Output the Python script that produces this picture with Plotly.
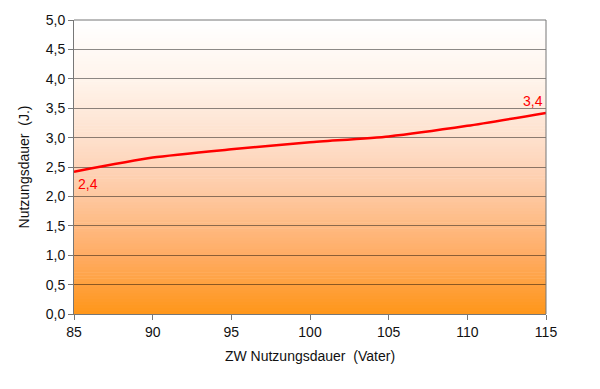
import plotly.graph_objects as go

x_vals = [85, 90, 95, 100, 105, 110, 115]
y_vals = [2.42, 2.66, 2.80, 2.92, 3.02, 3.20, 3.42]
x_ticks = [85, 90, 95, 100, 105, 110, 115]
y_ticks = [0, 0.5, 1, 1.5, 2, 2.5, 3, 3.5, 4, 4.5, 5]
y_tick_labels = ["0,0", "0,5", "1,0", "1,5", "2,0", "2,5", "3,0", "3,5", "4,0", "4,5", "5,0"]
start_label = "2,4"
end_label = "3,4"

# gradient stops (fraction of plot height from bottom, rgb)
grad_stops = [
    (0.0, (255, 150, 25)),
    (0.2, (255, 172, 100)),
    (0.4, (254, 200, 160)),
    (0.5, (254, 212, 185)),
    (0.6, (254, 225, 205)),
    (0.8, (255, 244, 236)),
    (1.0, (255, 255, 255)),
]


def grad_color(t):
    for (a, ca), (b, cb) in zip(grad_stops[:-1], grad_stops[1:]):
        if a <= t <= b:
            u = (t - a) / (b - a)
            return tuple(int(round(ca[k] + (cb[k] - ca[k]) * u)) for k in range(3))
    return grad_stops[-1][1]


fig = go.Figure()

n = 100
shapes = []
for i in range(n):
    f0 = i / n
    f1 = (i + 1) / n
    c = grad_color((f0 + f1) / 2)
    shapes.append(dict(type="rect", xref="paper", yref="paper", x0=0, x1=1,
                       y0=f0, y1=min(f1 + 0.002, 1), fillcolor="rgb(%d,%d,%d)" % c,
                       line=dict(width=0), layer="below"))
shapes.append(dict(type="line", xref="paper", yref="paper", x0=1, x1=1, y0=0, y1=1,
                   line=dict(color="#777777", width=1), layer="above"))
shapes.append(dict(type="line", xref="paper", yref="paper", x0=0, x1=1, y0=1, y1=1,
                   line=dict(color="#777777", width=1), layer="below"))

fig.add_trace(go.Scatter(x=x_vals, y=y_vals, mode="lines",
                         line=dict(color="#FF0000", width=2.5, shape="spline", smoothing=0.6),
                         hoverinfo="skip", showlegend=False))

fig.add_annotation(x=x_vals[0], y=y_vals[0], text=start_label, showarrow=False,
                   xanchor="left", yanchor="top", xshift=2, yshift=-2,
                   font=dict(color="#FF0000", size=14, family="Liberation Sans"))
fig.add_annotation(x=x_vals[-1], y=y_vals[-1], text=end_label, showarrow=False,
                   xanchor="right", yanchor="bottom", xshift=-1, yshift=2,
                   font=dict(color="#FF0000", size=14, family="Liberation Sans"))

fig.update_layout(
    width=600, height=389,
    margin=dict(l=74, r=54, t=20, b=75),
    paper_bgcolor="white",
    plot_bgcolor="rgba(0,0,0,0)",
    shapes=shapes,
    font=dict(family="Liberation Sans", size=14, color="#111111"),
    xaxis=dict(range=[85, 115], tickvals=x_ticks, ticks="outside", ticklen=5,
               tickcolor="#777777", showgrid=False, showline=True, linecolor="#777777",
               linewidth=1, zeroline=False, tickfont=dict(size=14),
               title=dict(text="ZW Nutzungsdauer  (Vater)", font=dict(size=14), standoff=12)),
    yaxis=dict(range=[0, 5], tickvals=y_ticks, ticktext=y_tick_labels, ticks="outside",
               ticklen=5, tickcolor="#777777", showgrid=True, gridcolor="rgba(0,0,0,0.45)",
               gridwidth=1, showline=True, linecolor="#777777", linewidth=1,
               zeroline=False, tickfont=dict(size=14),
               title=dict(text="Nutzungsdauer  (J.)", font=dict(size=14), standoff=12)),
)

fig.write_html("out.html", config={"displayModeBar": False},
               post_script="document.body.style.margin='0';")
